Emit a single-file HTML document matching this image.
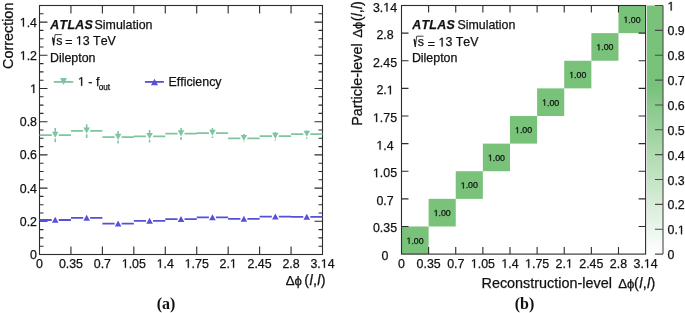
<!DOCTYPE html>
<html><head><meta charset="utf-8"><style>
html,body{margin:0;padding:0;background:#fff;}
svg{display:block;will-change:transform;}
text{font-family:"Liberation Sans", sans-serif;fill:#111;stroke:#111;stroke-width:0.25px;white-space:pre;font-kerning:none;font-feature-settings:"kern" 0,"liga" 0;}
.t12{font-size:12.4px;}
.t14{font-size:14.4px;}
.t85{font-size:8.8px;}
.cap{font-family:"Liberation Serif",serif;font-weight:bold;font-size:16px;stroke:none;}
.g1{fill:#111;stroke:#111;stroke-width:0.25px;}
</style></head><body>
<svg width="685" height="313" viewBox="0 0 685 313">
<rect x="39.5" y="5.5" width="283.0" height="249.0" fill="none" stroke="#2c2c2c" stroke-width="1.1"/>
<path d="M39.5,254.50h8M322.5,254.50h-8M39.5,246.20h4M322.5,246.20h-4M39.5,237.90h4M322.5,237.90h-4M39.5,229.60h4M322.5,229.60h-4M39.5,221.30h8M322.5,221.30h-8M39.5,213.00h4M322.5,213.00h-4M39.5,204.70h4M322.5,204.70h-4M39.5,196.40h4M322.5,196.40h-4M39.5,188.10h8M322.5,188.10h-8M39.5,179.80h4M322.5,179.80h-4M39.5,171.50h4M322.5,171.50h-4M39.5,163.20h4M322.5,163.20h-4M39.5,154.90h8M322.5,154.90h-8M39.5,146.60h4M322.5,146.60h-4M39.5,138.30h4M322.5,138.30h-4M39.5,130.00h4M322.5,130.00h-4M39.5,121.70h8M322.5,121.70h-8M39.5,113.40h4M322.5,113.40h-4M39.5,105.10h4M322.5,105.10h-4M39.5,96.80h4M322.5,96.80h-4M39.5,88.50h8M322.5,88.50h-8M39.5,80.20h4M322.5,80.20h-4M39.5,71.90h4M322.5,71.90h-4M39.5,63.60h4M322.5,63.60h-4M39.5,55.30h8M322.5,55.30h-8M39.5,47.00h4M322.5,47.00h-4M39.5,38.70h4M322.5,38.70h-4M39.5,30.40h4M322.5,30.40h-4M39.5,22.10h8M322.5,22.10h-8M39.5,13.80h4M322.5,13.80h-4M39.5,5.50h4M322.5,5.50h-4M70.94,254.5v-8M70.94,5.5v8M102.39,254.5v-8M102.39,5.5v8M133.83,254.5v-8M133.83,5.5v8M165.28,254.5v-8M165.28,5.5v8M196.72,254.5v-8M196.72,5.5v8M228.17,254.5v-8M228.17,5.5v8M259.61,254.5v-8M259.61,5.5v8M291.06,254.5v-8M291.06,5.5v8" stroke="#2c2c2c" stroke-width="1.1" fill="none"/>
<text x="30.10" y="259.00" style="font-size:12.4px">0</text>
<text x="19.76" y="225.80" style="font-size:12.4px">0.2</text>
<text x="19.76" y="192.60" style="font-size:12.4px">0.4</text>
<text x="19.76" y="159.40" style="font-size:12.4px">0.6</text>
<text x="19.76" y="126.20" style="font-size:12.4px">0.8</text>
<polygon points="33.22,93.00 33.22,85.51 31.30,86.88 31.30,85.86 33.31,84.47 34.32,84.47 34.32,93.00" class="g1"/>
<polygon points="22.88,59.80 22.88,52.31 20.96,53.68 20.96,52.66 22.97,51.27 23.98,51.27 23.98,59.80" class="g1"/><text x="26.66" y="59.80" style="font-size:12.4px">.2</text>
<polygon points="22.88,26.60 22.88,19.11 20.96,20.48 20.96,19.46 22.97,18.07 23.98,18.07 23.98,26.60" class="g1"/><text x="26.66" y="26.60" style="font-size:12.4px">.4</text>
<text x="36.05" y="267.80" style="font-size:12.4px">0</text>
<text x="58.88" y="267.80" style="font-size:12.4px">0.35</text>
<text x="93.77" y="267.80" style="font-size:12.4px">0.7</text>
<polygon points="124.88,267.80 124.88,260.31 122.96,261.68 122.96,260.66 124.98,259.27 125.98,259.27 125.98,267.80" class="g1"/><text x="128.66" y="267.80" style="font-size:12.4px">.05</text>
<polygon points="159.78,267.80 159.78,260.31 157.85,261.68 157.85,260.66 159.87,259.27 160.87,259.27 160.87,267.80" class="g1"/><text x="163.56" y="267.80" style="font-size:12.4px">.4</text>
<polygon points="187.77,267.80 187.77,260.31 185.85,261.68 185.85,260.66 187.86,259.27 188.87,259.27 188.87,267.80" class="g1"/><text x="191.55" y="267.80" style="font-size:12.4px">.75</text>
<text x="219.55" y="267.80" style="font-size:12.4px">2.</text><polygon points="233.01,267.80 233.01,260.31 231.08,261.68 231.08,260.66 233.10,259.27 234.10,259.27 234.10,267.80" class="g1"/>
<text x="247.54" y="267.80" style="font-size:12.4px">2.45</text>
<text x="282.44" y="267.80" style="font-size:12.4px">2.8</text>
<text x="310.43" y="267.80" style="font-size:12.4px">3.</text><polygon points="323.89,267.80 323.89,260.31 321.97,261.68 321.97,260.66 323.98,259.27 324.99,259.27 324.99,267.80" class="g1"/><text x="327.67" y="267.80" style="font-size:12.4px">4</text>
<text transform="translate(12.6,69.0) rotate(-90)" class="t14">Correction</text>
<text x="285.8" y="284.5" style="font-size:13.2px">Δϕ</text>
<text x="304.3" y="284.9" class="t14" letter-spacing="0.3">(<tspan font-style="italic">l</tspan>,<tspan font-style="italic">l</tspan>)</text>
<text x="50.3" y="29.0" class="t12" font-weight="bold" font-style="italic" letter-spacing="0.3">ATLAS</text>
<text x="94.6" y="29.0" class="t12">Simulation</text>
<path d="M52.00,38.20L52.90,37.60L54.00,43.20L55.10,34.60H61.90" stroke="#111" stroke-width="0.8" fill="none"/>
<path d="M52.70,37.80L53.80,45.40" stroke="#111" stroke-width="1.4" fill="none"/>
<text x="56.20" y="44.80" class="t12">s</text>
<text x="65.20" y="46.40" class="t12">=</text>
<polygon points="79.00,44.80 79.00,37.31 77.08,38.68 77.08,37.66 79.10,36.27 80.10,36.27 80.10,44.80" class="g1"/><text x="82.78" y="44.80" style="font-size:12.4px">3 TeV</text>
<text x="50.0" y="62.2" class="t12">Dilepton</text>
<path d="M53.8,81.9H73.2" stroke="#7ec5a0" stroke-width="1.8"/>
<path d="M60.00,78.10L67.00,78.10L63.50,85.00Z" fill="#7ec5a0"/>
<polygon points="81.12,85.80 81.12,78.31 79.19,79.68 79.19,78.66 81.21,77.27 82.21,77.27 82.21,85.80" class="g1"/>
<text x="84.90" y="85.8" class="t12"> - f<tspan font-size="8.2" dx="-0.6" dy="4.2">out</tspan></text>
<path d="M144.9,81.9H163.9" stroke="#5450d8" stroke-width="1.8"/>
<path d="M151.00,85.20L158.00,85.20L154.50,78.80Z" fill="#5450d8"/>
<text x="168.5" y="85.8" class="t12">Efficiency</text>
<path d="M39.50,135.1H51.72M58.72,135.1H70.94M70.94,130.9H83.17M90.17,130.9H102.39M102.39,137.2H114.61M121.61,137.2H133.83M133.83,136.4H146.06M153.06,136.4H165.28M165.28,133.7H177.50M184.50,133.7H196.72M196.72,133.1H208.94M215.94,133.1H228.17M228.17,138.4H240.39M247.39,138.4H259.61M259.61,136.2H271.83M278.83,136.2H291.06M291.06,134.1H303.28M310.28,134.1H322.50" stroke="#7ec5a0" stroke-width="1.8" fill="none"/>
<path d="M55.22,127.9V135.1M55.22,138.50V142.3M86.67,124.2V130.9M86.67,134.30V137.9M118.11,130.9V137.2M118.11,140.60V143.6M149.56,130.1V136.4M149.56,139.80V142.6M181.00,127.9V133.7M181.00,137.10V140M212.44,128.1V133.1M212.44,136.50V137.9M243.89,133.9V138.4M243.89,141.80V142.3M275.33,131.9V136.2M275.33,139.60V140.6M306.78,130.4V134.1M306.78,137.50V138.7" stroke="#7ec5a0" stroke-width="1.6" fill="none"/>
<path d="M51.92,131.70L58.52,131.70L55.22,137.80ZM83.37,127.50L89.97,127.50L86.67,133.60ZM114.81,133.80L121.41,133.80L118.11,139.90ZM146.26,133.00L152.86,133.00L149.56,139.10ZM177.70,130.30L184.30,130.30L181.00,136.40ZM209.14,129.70L215.74,129.70L212.44,135.80ZM240.59,135.00L247.19,135.00L243.89,141.10ZM272.03,132.80L278.63,132.80L275.33,138.90ZM303.48,130.70L310.08,130.70L306.78,136.80Z" fill="#7ec5a0"/>
<path d="M39.50,220.0H51.72M58.72,220.0H70.94M70.94,217.9H83.17M90.17,217.9H102.39M102.39,223.7H114.61M121.61,223.7H133.83M133.83,220.9H146.06M153.06,220.9H165.28M165.28,219.1H177.50M184.50,219.1H196.72M196.72,217.4H208.94M215.94,217.4H228.17M228.17,218.9H240.39M247.39,218.9H259.61M259.61,216.6H271.83M278.83,216.6H291.06M291.06,216.9H303.28M310.28,216.9H322.50" stroke="#5450d8" stroke-width="1.8" fill="none"/>
<path d="M51.92,222.80L58.52,222.80L55.22,216.80ZM83.37,220.70L89.97,220.70L86.67,214.70ZM114.81,226.50L121.41,226.50L118.11,220.50ZM146.26,223.70L152.86,223.70L149.56,217.70ZM177.70,221.90L184.30,221.90L181.00,215.90ZM209.14,220.20L215.74,220.20L212.44,214.20ZM240.59,221.70L247.19,221.70L243.89,215.70ZM272.03,219.40L278.63,219.40L275.33,213.40ZM303.48,219.70L310.08,219.70L306.78,213.70Z" fill="#5450d8"/>
<rect x="401.50" y="226.48" width="27.12" height="27.62" fill="#78c27a"/>
<polygon points="408.71,243.69 408.71,238.37 407.34,239.35 407.34,238.62 408.77,237.63 409.49,237.63 409.49,243.69" class="g1"/><text x="411.39" y="243.69" style="font-size:8.8px">.00</text>
<rect x="428.62" y="198.86" width="27.12" height="27.62" fill="#78c27a"/>
<polygon points="435.83,216.07 435.83,210.75 434.47,211.73 434.47,211.00 435.90,210.01 436.61,210.01 436.61,216.07" class="g1"/><text x="438.51" y="216.07" style="font-size:8.8px">.00</text>
<rect x="455.74" y="171.23" width="27.12" height="27.62" fill="#78c27a"/>
<polygon points="462.95,188.44 462.95,183.13 461.59,184.10 461.59,183.37 463.02,182.39 463.73,182.39 463.73,188.44" class="g1"/><text x="465.64" y="188.44" style="font-size:8.8px">.00</text>
<rect x="482.87" y="143.61" width="27.12" height="27.62" fill="#78c27a"/>
<polygon points="490.08,160.82 490.08,155.51 488.71,156.48 488.71,155.75 490.14,154.77 490.85,154.77 490.85,160.82" class="g1"/><text x="492.76" y="160.82" style="font-size:8.8px">.00</text>
<rect x="509.99" y="115.99" width="27.12" height="27.62" fill="#78c27a"/>
<polygon points="517.20,133.20 517.20,127.88 515.83,128.86 515.83,128.13 517.26,127.15 517.98,127.15 517.98,133.20" class="g1"/><text x="519.88" y="133.20" style="font-size:8.8px">.00</text>
<rect x="537.11" y="88.37" width="27.12" height="27.62" fill="#78c27a"/>
<polygon points="544.32,105.58 544.32,100.26 542.96,101.24 542.96,100.51 544.39,99.52 545.10,99.52 545.10,105.58" class="g1"/><text x="547.00" y="105.58" style="font-size:8.8px">.00</text>
<rect x="564.23" y="60.74" width="27.12" height="27.62" fill="#78c27a"/>
<polygon points="571.44,77.96 571.44,72.64 570.08,73.62 570.08,72.89 571.51,71.90 572.22,71.90 572.22,77.96" class="g1"/><text x="574.12" y="77.96" style="font-size:8.8px">.00</text>
<rect x="591.36" y="33.12" width="27.12" height="27.62" fill="#78c27a"/>
<polygon points="598.57,50.33 598.57,45.02 597.20,45.99 597.20,45.26 598.63,44.28 599.34,44.28 599.34,50.33" class="g1"/><text x="601.25" y="50.33" style="font-size:8.8px">.00</text>
<rect x="618.48" y="5.50" width="27.12" height="27.62" fill="#78c27a"/>
<polygon points="625.69,22.71 625.69,17.40 624.32,18.37 624.32,17.64 625.75,16.66 626.47,16.66 626.47,22.71" class="g1"/><text x="628.37" y="22.71" style="font-size:8.8px">.00</text>
<rect x="401.5" y="5.5" width="244.10" height="248.60" fill="none" stroke="#2c2c2c" stroke-width="1.1"/>
<path d="M428.62,254.1v-7M428.62,5.5v7M401.5,226.48h7M645.6,226.48h-7M455.74,254.1v-7M455.74,5.5v7M401.5,198.86h7M645.6,198.86h-7M482.87,254.1v-7M482.87,5.5v7M401.5,171.23h7M645.6,171.23h-7M509.99,254.1v-7M509.99,5.5v7M401.5,143.61h7M645.6,143.61h-7M537.11,254.1v-7M537.11,5.5v7M401.5,115.99h7M645.6,115.99h-7M564.23,254.1v-7M564.23,5.5v7M401.5,88.37h7M645.6,88.37h-7M591.36,254.1v-7M591.36,5.5v7M401.5,60.74h7M645.6,60.74h-7M618.48,254.1v-7M618.48,5.5v7M401.5,33.12h7M645.6,33.12h-7" stroke="#2c2c2c" stroke-width="1.1" fill="none"/>
<text x="398.05" y="267.80" style="font-size:12.4px">0</text>
<text x="381.55" y="260.10" style="font-size:12.4px">0</text>
<text x="416.56" y="267.80" style="font-size:12.4px">0.35</text>
<text x="372.93" y="232.48" style="font-size:12.4px">0.35</text>
<text x="447.13" y="267.80" style="font-size:12.4px">0.7</text>
<text x="376.38" y="204.86" style="font-size:12.4px">0.7</text>
<polygon points="473.92,267.80 473.92,260.31 471.99,261.68 471.99,260.66 474.01,259.27 475.01,259.27 475.01,267.80" class="g1"/><text x="477.70" y="267.80" style="font-size:12.4px">.05</text>
<polygon points="376.05,177.23 376.05,169.74 374.13,171.12 374.13,170.09 376.14,168.70 377.15,168.70 377.15,177.23" class="g1"/><text x="379.83" y="177.23" style="font-size:12.4px">.05</text>
<polygon points="504.49,267.80 504.49,260.31 502.56,261.68 502.56,260.66 504.58,259.27 505.58,259.27 505.58,267.80" class="g1"/><text x="508.27" y="267.80" style="font-size:12.4px">.4</text>
<polygon points="379.50,149.61 379.50,142.12 377.57,143.50 377.57,142.47 379.59,141.08 380.60,141.08 380.60,149.61" class="g1"/><text x="383.28" y="149.61" style="font-size:12.4px">.4</text>
<polygon points="528.16,267.80 528.16,260.31 526.24,261.68 526.24,260.66 528.25,259.27 529.26,259.27 529.26,267.80" class="g1"/><text x="531.94" y="267.80" style="font-size:12.4px">.75</text>
<polygon points="376.05,121.99 376.05,114.50 374.13,115.87 374.13,114.84 376.14,113.46 377.15,113.46 377.15,121.99" class="g1"/><text x="379.83" y="121.99" style="font-size:12.4px">.75</text>
<text x="555.61" y="267.80" style="font-size:12.4px">2.</text><polygon points="569.07,267.80 569.07,260.31 567.15,261.68 567.15,260.66 569.16,259.27 570.17,259.27 570.17,267.80" class="g1"/>
<text x="376.38" y="94.37" style="font-size:12.4px">2.</text><polygon points="389.84,94.37 389.84,86.88 387.92,88.25 387.92,87.22 389.93,85.84 390.94,85.84 390.94,94.37" class="g1"/>
<text x="579.29" y="267.80" style="font-size:12.4px">2.45</text>
<text x="372.93" y="66.74" style="font-size:12.4px">2.45</text>
<text x="609.86" y="267.80" style="font-size:12.4px">2.8</text>
<text x="376.38" y="39.12" style="font-size:12.4px">2.8</text>
<text x="633.53" y="267.80" style="font-size:12.4px">3.</text><polygon points="646.99,267.80 646.99,260.31 645.07,261.68 645.07,260.66 647.08,259.27 648.09,259.27 648.09,267.80" class="g1"/><text x="650.77" y="267.80" style="font-size:12.4px">4</text>
<text x="372.93" y="11.50" style="font-size:12.4px">3.</text><polygon points="386.39,11.50 386.39,4.01 384.47,5.38 384.47,4.36 386.48,2.97 387.49,2.97 387.49,11.50" class="g1"/><text x="390.17" y="11.50" style="font-size:12.4px">4</text>
<defs><linearGradient id="pg" x1="0" y1="1" x2="0" y2="0"><stop offset="0" stop-color="#ffffff"/><stop offset="0.68" stop-color="#78c27a"/><stop offset="1" stop-color="#78c27a"/></linearGradient></defs>
<rect x="647" y="5.5" width="16" height="248.60" fill="url(#pg)"/>
<path d="M663,5.5V254.1M663,254.10h-8M663,229.24h-8M663,204.38h-8M663,179.52h-8M663,154.66h-8M663,129.80h-8M663,104.94h-8M663,80.08h-8M663,55.22h-8M663,30.36h-8M663,5.50h-8" stroke="#4a4a4a" stroke-width="1.1" fill="none"/>
<text x="667.50" y="259.10" style="font-size:12.4px">0</text>
<text x="667.50" y="234.24" style="font-size:12.4px">0.</text><polygon points="680.96,234.24 680.96,226.75 679.03,228.12 679.03,227.10 681.05,225.71 682.06,225.71 682.06,234.24" class="g1"/>
<text x="667.50" y="209.38" style="font-size:12.4px">0.2</text>
<text x="667.50" y="184.52" style="font-size:12.4px">0.3</text>
<text x="667.50" y="159.66" style="font-size:12.4px">0.4</text>
<text x="667.50" y="134.80" style="font-size:12.4px">0.5</text>
<text x="667.50" y="109.94" style="font-size:12.4px">0.6</text>
<text x="667.50" y="85.08" style="font-size:12.4px">0.7</text>
<text x="667.50" y="60.22" style="font-size:12.4px">0.8</text>
<text x="667.50" y="35.36" style="font-size:12.4px">0.9</text>
<polygon points="670.62,10.50 670.62,3.01 668.69,4.38 668.69,3.36 670.71,1.97 671.71,1.97 671.71,10.50" class="g1"/>
<g transform="translate(361.6,0) rotate(-90)"><text x="-125.8" y="0" class="t14">Particle-level</text><text x="-37.8" y="0" style="font-size:13.2px">Δϕ</text><text x="-21.3" y="0" class="t14">(<tspan font-style="italic">l</tspan>,<tspan font-style="italic">l</tspan>)</text></g>
<text x="481.5" y="288.2" class="t14">Reconstruction-level</text>
<text x="618.2" y="288.0" style="font-size:13.2px">Δϕ</text>
<text x="634.1" y="288.2" class="t14" letter-spacing="0.3">(<tspan font-style="italic">l</tspan>,<tspan font-style="italic">l</tspan>)</text>
<text x="412.2" y="28.8" class="t12" font-weight="bold" font-style="italic" letter-spacing="0.3">ATLAS</text>
<text x="457.5" y="28.8" class="t12">Simulation</text>
<path d="M413.60,39.80L414.50,39.20L415.60,44.80L416.70,36.20H423.50" stroke="#111" stroke-width="0.8" fill="none"/>
<path d="M414.30,39.40L415.40,47.00" stroke="#111" stroke-width="1.4" fill="none"/>
<text x="417.80" y="46.40" class="t12">s</text>
<text x="427.80" y="48.00" class="t12">=</text>
<polygon points="441.60,46.40 441.60,38.91 439.68,40.28 439.68,39.26 441.70,37.87 442.70,37.87 442.70,46.40" class="g1"/><text x="445.38" y="46.40" style="font-size:12.4px">3 TeV</text>
<text x="411.9" y="62.2" class="t12">Dilepton</text>
<text x="166" y="309" text-anchor="middle" class="cap">(a)</text>
<text x="524.5" y="309" text-anchor="middle" class="cap">(b)</text>
</svg>
</body></html>
